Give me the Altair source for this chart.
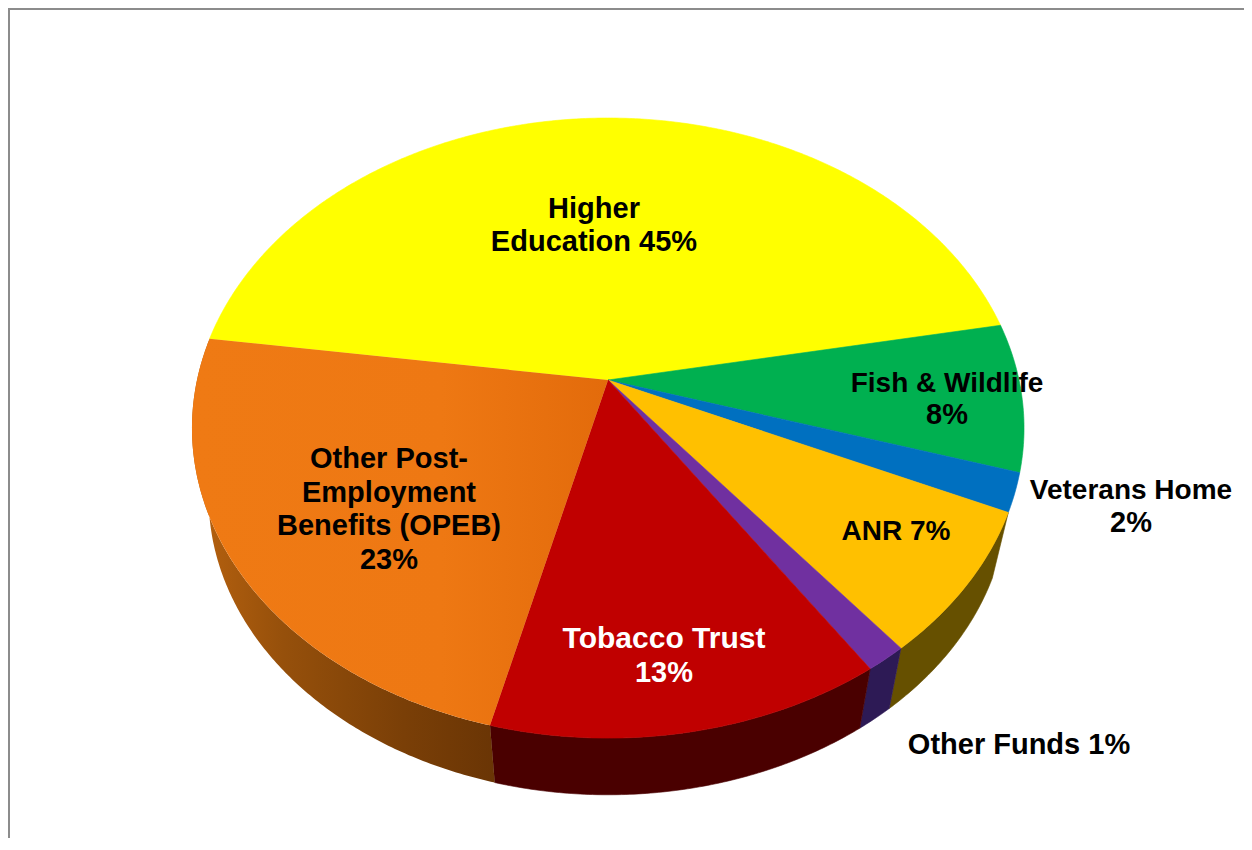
import numpy as np
import pandas as pd
import altair as alt

categories = ["Higher Education", "Fish & Wildlife", "Veterans Home", "ANR",
              "Other Funds", "Tobacco Trust", "Other Post-Employment Benefits (OPEB)"]
shares = [44.8, 7.7, 2.0, 7.5, 1.4, 13.3, 23.3]
top_colors = ["#ffff00", "#00b050", "#0070c0", "#ffc000", "#7030a0", "#c00000", None]
wall_colors = [None, None, None, "#665000", "#2d1a55", "#4a0000", "orange"]

label_text = ["Higher", "Education 45%", "Fish & Wildlife", "8%", "Veterans Home", "2%",
              "ANR 7%", "Other Funds 1%", "Tobacco Trust", "13%", "Other Post-",
              "Employment", "Benefits (OPEB)", "23%"]
label_x = [594, 594, 947, 947, 1131, 1131, 896, 1019, 664, 664, 389, 389, 389, 389]
label_y = [209, 242, 384, 415, 491, 523, 532, 745, 639, 673, 459, 493, 526, 560]
label_color = ["#000000"] * 8 + ["#ffffff"] * 2 + ["#000000"] * 4
label_size = [29, 29, 28, 29, 28, 29, 28, 29, 30, 29, 29, 29, 29, 29]

# perspective view of the pie disc
CX, CY, A, B, K = 608.0, 380.0, 411.0, 302.6, 0.155
START = 172.0
WALL_SCALE, WALL_CY = 0.96, 451.0
W, H = 1236, 830


def rim(deg, scale=1.0, cy=CY):
    t = np.radians(deg)
    u, v = np.cos(t), np.sin(t)
    d = 1 + K * v
    return CX + scale * A * u / d, cy - scale * B * v / d


x_scale = alt.Scale(domain=[8, 8 + W], range=[0, W], nice=False, zero=False)
y_scale = alt.Scale(domain=[8, 8 + H], range=[0, H], nice=False, zero=False)


def poly(xs, ys, fill):
    df = pd.DataFrame({"x": xs, "y": ys, "o": np.arange(len(xs))})
    if isinstance(fill, str):
        mark = alt.Chart(df).mark_line(fill=fill, stroke=fill, strokeWidth=0.6, clip=False)
    else:
        mark = alt.Chart(df).mark_line(fill=fill, strokeWidth=0, clip=False)
    return mark.encode(
        x=alt.X("x:Q", scale=x_scale, axis=None),
        y=alt.Y("y:Q", scale=y_scale, axis=None),
        order="o:Q",
    )


def gradient(stops):
    return alt.Gradient(gradient="linear", x1=0, x2=1, y1=0, y2=0,
                        stops=[alt.GradientStop(offset=o, color=c) for o, c in stops])


orange_top = gradient([(0, "#ef7a14"), (0.6, "#ee7813"), (1, "#e36b0b")])
orange_wall = gradient([(0, "#b8620f"), (0.3, "#96500b"), (0.7, "#7a3f07"), (1, "#6a3505")])

walls, tops = [], []
a = START
for i, share in enumerate(shares):
    span = share / sum(shares) * 360.0
    ang = np.linspace(a, a - span, max(int(span * 2), 4))
    tx, ty = rim(ang)
    bx, by = rim(ang, WALL_SCALE, WALL_CY)
    if wall_colors[i]:
        wall_fill = orange_wall if wall_colors[i] == "orange" else wall_colors[i]
        walls.append(poly(np.r_[tx, bx[::-1], tx[:1]], np.r_[ty, by[::-1], ty[:1]], wall_fill))
    tops.append(poly(np.r_[CX, tx, CX], np.r_[CY, ty, CY], top_colors[i] or orange_top))
    a -= span

frame_top = alt.Chart(pd.DataFrame({"v": [0]})).mark_rule(color="#8c8c8c", strokeWidth=2).encode(
    x=alt.value(0), x2=alt.value(W), y=alt.value(1))
frame_left = alt.Chart(pd.DataFrame({"v": [0]})).mark_rule(color="#8c8c8c", strokeWidth=2).encode(
    y=alt.value(0), y2=alt.value(H), x=alt.value(1))

labels = alt.Chart(pd.DataFrame({"t": label_text, "x": label_x, "y": label_y,
                                 "c": label_color, "s": label_size})).mark_text(
    font="Liberation Sans", fontWeight="bold", align="center", baseline="middle"
).encode(
    x=alt.X("x:Q", scale=x_scale, axis=None),
    y=alt.Y("y:Q", scale=y_scale, axis=None),
    text="t:N",
    color=alt.Color("c:N", scale=None),
    size=alt.Size("s:Q", scale=None),
)

chart = alt.layer(frame_top, frame_left, *walls, *tops, labels).properties(
    width=W, height=H, padding=0, background="#ffffff",
    autosize=alt.AutoSizeParams(type="none"),
).configure_view(stroke=None)

chart.save("out.html", embed_options={"renderer": "svg", "actions": False})
